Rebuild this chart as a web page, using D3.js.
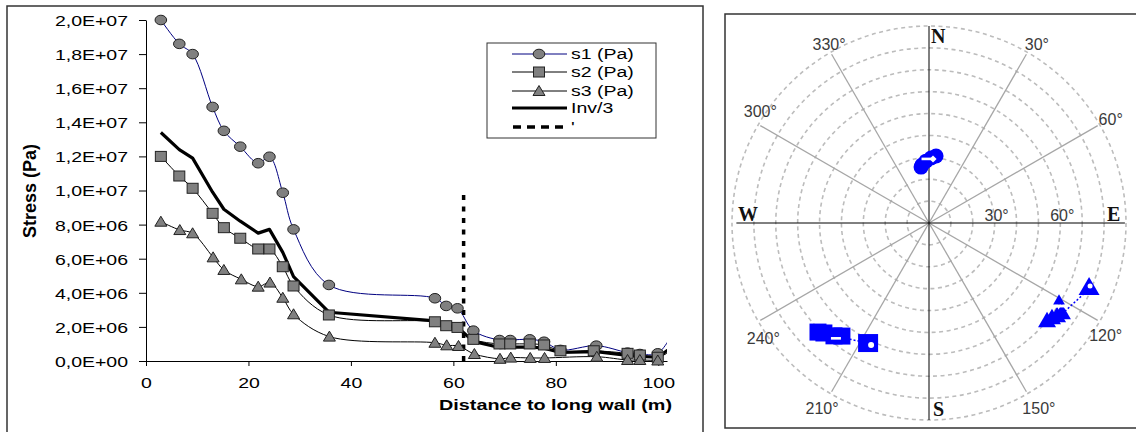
<!DOCTYPE html>
<html><head><meta charset="utf-8">
<script src="https://cdn.jsdelivr.net/npm/d3@7"></script>
<style>body{margin:0;background:#fff}svg{display:block}</style>
</head><body><svg id="c" width="1136" height="432"></svg>
<script>
// ---------- data: stress profile ----------
const distS1 = [2.9, 6.5, 9.1, 13.0, 15.2, 18.4, 21.9, 24.1, 26.7, 28.8, 35.7, 56.4, 58.6, 60.8, 63.9, 69.0, 71.1, 74.9, 77.7, 80.9, 87.9, 94.0, 96.4, 99.9, 103.5];
const s1 = [2.0e7, 1.86e7, 1.80e7, 1.49e7, 1.35e7, 1.257e7, 1.16e7, 1.198e7, 9.87e6, 7.72e6, 4.46e6, 3.68e6, 3.23e6, 3.09e6, 1.78e6, 1.23e6, 1.23e6, 1.27e6, 1.13e6, 0.65e6, 0.9e6, 0.49e6, 0.41e6, 0.45e6, 2.0e6];
const distS2 = [2.9, 6.5, 9.1, 13.0, 15.2, 18.4, 21.9, 24.1, 26.7, 28.8, 35.7, 56.4, 58.6, 60.8, 63.9, 69.0, 71.1, 74.9, 77.7, 80.9, 87.4, 94.0, 96.4, 99.9, 103.5];
const s2 = [1.2e7, 1.085e7, 1.013e7, 8.66e6, 7.82e6, 7.2e6, 6.57e6, 6.57e6, 5.53e6, 4.4e6, 2.7e6, 2.3e6, 2.07e6, 1.97e6, 1.27e6, 1.0e6, 1.0e6, 1.0e6, 0.94e6, 0.6e6, 0.6e6, 0.45e6, 0.35e6, 0.22e6, 0.8e6];
const distS3 = [2.9, 6.6, 9.1, 13.1, 15.2, 18.6, 21.9, 24.2, 26.7, 28.8, 35.8, 56.4, 58.7, 61.0, 64.1, 69.1, 71.2, 75.0, 77.8, 88.0, 94.0, 96.4, 99.9];
const s3 = [8.17e6, 7.68e6, 7.49e6, 6.08e6, 5.34e6, 4.79e6, 4.36e6, 4.6e6, 3.71e6, 2.74e6, 1.43e6, 1.07e6, 0.92e6, 0.88e6, 0.41e6, 0.13e6, 0.2e6, 0.18e6, 0.18e6, 0.25e6, 0.06e6, 0.06e6, 0.03e6];
const distInv = [2.9, 6.5, 9.1, 13.0, 15.2, 18.4, 21.9, 24.1, 26.7, 28.8, 35.7, 56.4, 58.6, 60.8, 63.9, 69.0, 71.1, 74.9, 77.7, 80.9, 87.9, 94.0, 96.4, 99.9, 103.5];
const inv3 = [13.4e6, 12.4e6, 11.9e6, 9.9e6, 8.9e6, 8.2e6, 7.5e6, 7.72e6, 6.37e6, 4.95e6, 2.86e6, 2.35e6, 2.07e6, 1.98e6, 1.15e6, 0.79e6, 0.81e6, 0.82e6, 0.75e6, 0.5e6, 0.55e6, 0.33e6, 0.27e6, 0.22e6, 1.0e6];
const dashDist = [62, 62];
const dashVal = [0, 1.0e7];
const xTicks = [0, 20, 40, 60, 80, 100];
const yTicks = [0, 2e6, 4e6, 6e6, 8e6, 1e7, 1.2e7, 1.4e7, 1.6e7, 1.8e7, 2e7];
const legendLabels = ['s1 (Pa)', 's2 (Pa)', 's3 (Pa)', 'Inv/3', "'"];
const xTitle = 'Distance to long wall (m)';
const yTitle = 'Stress (Pa)';

// ---------- data: stereonet (azimuth deg, angle from centre deg) ----------
const polarCircles = [10, 20, 30, 40, 50, 60, 70, 80, 90];
const spokeAngles = [30, 60, 120, 150, 210, 240, 300, 330];
const spokeLabels = ['30°', '60°', '120°', '150°', '210°', '240°', '300°', '330°'];
const ringLabels = ['30°', '60°'];
const ringLabelValues = [30, 60];
const cardinal = ['N', 'E', 'S', 'W'];
const p1Az = [353.1, 357.2, 1.8, 6.0, 351.9];
const p1Ang = [26.7, 28.3, 29.7, 30.8, 25.8];
const p2Az = [225.5, 223.7, 220.1, 217.6];
const p2Ang = [71.1, 69.5, 67.4, 65.2];
const p3Az = [130.0, 128.0, 126.3, 124.4, 121.0];
const p3Ang = [70.4, 71.3, 72.6, 73.6, 69.3];
const meanAz = [3.6, 206.9, 112.4];
const meanAng = [29.3, 61.5, 79.1];
const dashAz = [357.8, 218.9, 122.4];
const dashAng = [29.3, 67.7, 70.9];

// ---------- drawing ----------
const svg = d3.select('#c');
const FONT = "'Liberation Sans', Arial, sans-serif";
const SX = 1.3;
svg.append('rect').attr('width', 1136).attr('height', 432).attr('fill', '#fff');

// left frame
svg.append('rect').attr('x', 7).attr('y', 6).attr('width', 696).attr('height', 440)
  .attr('fill', 'none').attr('stroke', '#333').attr('stroke-width', 1.5);

const x = d3.scaleLinear().domain([0, 101.7]).range([146, 667]);
const y = d3.scaleLinear().domain([0, 2e7]).range([361, 20]);

function fmtE(v) {
  if (v === 0) return '0,0E+00';
  const e = Math.floor(Math.log10(v) + 1e-9);
  const m = v / Math.pow(10, e);
  return m.toFixed(1).replace('.', ',') + 'E+' + String(e).padStart(2, '0');
}

const defs = svg.append('defs');
defs.append('clipPath').attr('id', 'plotclip').append('rect')
  .attr('x', 140).attr('y', 0).attr('width', 527).attr('height', 372);

// axes
const gy = svg.append('g').attr('transform', 'translate(146,0)')
  .call(d3.axisLeft(y).tickValues(yTicks).tickSize(7).tickSizeOuter(0).tickFormat(fmtE));
gy.attr('font-family', FONT).attr('font-size', 15);
gy.select('.domain').attr('stroke', '#000');
gy.selectAll('.tick line').attr('stroke', '#000');
gy.selectAll('.tick text').attr('fill', '#000').attr('x', -18 / SX).attr('dy', '0.36em')
  .attr('transform', `scale(${SX},1)`);

const gx = svg.append('g').attr('transform', 'translate(0,361)')
  .call(d3.axisBottom(x).tickValues(xTicks).tickSize(5).tickSizeOuter(0));
gx.attr('font-family', FONT).attr('font-size', 15);
gx.select('.domain').attr('stroke', '#000');
gx.selectAll('.tick line').attr('stroke', '#000');
gx.selectAll('.tick text').attr('fill', '#000').attr('y', 27).attr('dy', 0)
  .attr('transform', `scale(${SX},1)`);

function stext(parent, px, py, str, o) {
  const g = parent.append('g').attr('transform', `translate(${px},${py}) scale(${o.sx || SX},1)`);
  return g.append('text').text(str).attr('font-family', FONT).attr('font-size', o.size || 15)
    .attr('font-weight', o.weight || 'normal').attr('text-anchor', o.anchor || 'start').attr('fill', '#000');
}
stext(svg, 672, 409.5, xTitle, {anchor: 'end', weight: 'bold', size: 15, sx: 1.32});
svg.append('text').attr('transform', 'translate(36,191) rotate(-90)').attr('text-anchor', 'middle')
  .attr('font-family', FONT).attr('font-weight', 'bold').attr('font-size', 18).text(yTitle);

// series
const plot = svg.append('g').attr('clip-path', 'url(#plotclip)');
const smooth = d3.line().x(d => x(d[0])).y(d => y(d[1])).curve(d3.curveCatmullRom.alpha(0.5));
const straight = d3.line().x(d => x(d[0])).y(d => y(d[1]));
const d1 = d3.zip(distS1, s1), d2 = d3.zip(distS2, s2), d3s = d3.zip(distS3, s3), dI = d3.zip(distInv, inv3);

plot.append('path').attr('d', smooth(d1)).attr('fill', 'none').attr('stroke', '#000080').attr('stroke-width', 1);
plot.append('path').attr('d', smooth(d2)).attr('fill', 'none').attr('stroke', '#000').attr('stroke-width', 1);
plot.append('path').attr('d', smooth(d3s)).attr('fill', 'none').attr('stroke', '#000').attr('stroke-width', 1);
plot.append('path').attr('d', straight(dI)).attr('fill', 'none').attr('stroke', '#000').attr('stroke-width', 3.2)
  .attr('stroke-linejoin', 'round');
plot.append('path').attr('d', straight(d3.zip(dashDist, dashVal))).attr('fill', 'none').attr('stroke', '#000')
  .attr('stroke-width', 3.5).attr('stroke-dasharray', '5,6.5');

const MF = '#808080', MS = '#222';
function drawCircle(g, px, py) {
  g.append('ellipse').attr('cx', px).attr('cy', py).attr('rx', 5.8).attr('ry', 4.8)
    .attr('fill', MF).attr('stroke', MS).attr('stroke-width', 1);
}
function drawSquare(g, px, py) {
  g.append('rect').attr('x', px - 5.5).attr('y', py - 5).attr('width', 11).attr('height', 10)
    .attr('fill', MF).attr('stroke', MS).attr('stroke-width', 1);
}
function drawTri(g, px, py) {
  g.append('path').attr('d', `M${px},${py - 5.5}L${px + 6},${py + 4.5}L${px - 6},${py + 4.5}Z`)
    .attr('fill', MF).attr('stroke', MS).attr('stroke-width', 1);
}
d1.forEach(d => drawCircle(plot, x(d[0]), y(d[1])));
d2.forEach(d => drawSquare(plot, x(d[0]), y(d[1])));
d3s.forEach(d => drawTri(plot, x(d[0]), y(d[1])));

// legend
const lg = svg.append('g');
lg.append('rect').attr('x', 487).attr('y', 43).attr('width', 169).attr('height', 95)
  .attr('fill', '#fff').attr('stroke', '#333').attr('stroke-width', 1);
const rowY = [54, 72, 91, 108, 127];
const legStroke = ['#000080', '#000', '#000', '#000', '#000'];
const legWidth = [1, 1, 1, 3.2, 3.5];
legendLabels.forEach((lab, i) => {
  const ln = lg.append('line').attr('x1', 512).attr('x2', 567).attr('y1', rowY[i]).attr('y2', rowY[i])
    .attr('stroke', legStroke[i]).attr('stroke-width', legWidth[i]);
  if (i === 4) ln.attr('stroke-dasharray', '8,6').attr('x1', 513);
  if (i === 0) drawCircle(lg, 539, rowY[i]);
  if (i === 1) drawSquare(lg, 539, rowY[i]);
  if (i === 2) drawTri(lg, 539, rowY[i]);
  stext(lg, 571, rowY[i] + 5, lab, {size: 15});
});

// ---------- stereonet ----------
svg.append('rect').attr('x', 725).attr('y', 14).attr('width', 420).attr('height', 414)
  .attr('fill', 'none').attr('stroke', '#333').attr('stroke-width', 1.5);
const cx = 929, cy = 223;
const r = d3.scaleLinear().domain([0, 90]).range([0, 197]);
const P = (az, a) => [cx + r(a) * Math.sin(az * Math.PI / 180), cy - r(a) * Math.cos(az * Math.PI / 180)];
const pg = svg.append('g');
polarCircles.forEach(c => {
  pg.append('circle').attr('cx', cx).attr('cy', cy).attr('r', r(c)).attr('fill', 'none')
    .attr('stroke', '#bcbcbc').attr('stroke-width', 1.6).attr('stroke-dasharray', '4,3.5');
});
spokeAngles.forEach(a => {
  const e = P(a, 89);
  pg.append('line').attr('x1', cx).attr('y1', cy).attr('x2', e[0]).attr('y2', e[1])
    .attr('stroke', '#a6a6a6').attr('stroke-width', 1.3);
});
pg.append('line').attr('x1', cx).attr('x2', cx).attr('y1', cy - r(90)).attr('y2', cy + r(90)).attr('stroke', '#000').attr('stroke-width', 1);
pg.append('line').attr('x1', cx - r(88)).attr('x2', cx + r(89.5)).attr('y1', cy).attr('y2', cy).attr('stroke', '#000').attr('stroke-width', 1);

const labOff = {30: [10.5, -4], 60: [13, -0.5], 120: [8, 20.5], 150: [12.5, 22], 210: [-9.5, 22], 240: [3, 23.5], 300: [0, -8.5], 330: [-2.5, -4]};
spokeAngles.forEach((a, i) => {
  const e = P(a, 89);
  pg.append('text').attr('x', e[0] + labOff[a][0]).attr('y', e[1] + labOff[a][1]).attr('text-anchor', 'middle')
    .attr('font-family', FONT).attr('font-size', 16).attr('fill', '#3a3a3a').text(spokeLabels[i]);
});
ringLabels.forEach((t, i) => {
  pg.append('text').attr('x', cx + r(ringLabelValues[i]) + 2).attr('y', cy - 2.5).attr('text-anchor', 'middle')
    .attr('font-family', FONT).attr('font-size', 16).attr('fill', '#3a3a3a').text(t);
});
const cardPos = {N: [931, 43], E: [1107, 221], S: [933, 416], W: [738, 221]};
cardinal.forEach(c => {
  pg.append('text').attr('x', cardPos[c][0]).attr('y', cardPos[c][1])
    .attr('font-family', "'Liberation Serif', 'Times New Roman', serif").attr('font-weight', 'bold')
    .attr('font-size', 20).attr('fill', '#111').text(c);
});

const BLUE = '#0000ff';
// dotted links to means
[[p2Az, p2Ang, 1], [p3Az, p3Ang, 2]].forEach(([az, an, k]) => {
  const a = P(az[az.length - 2], an[an.length - 2]), b = P(meanAz[k], meanAng[k]);
  pg.append('line').attr('x1', a[0]).attr('y1', a[1]).attr('x2', b[0]).attr('y2', b[1])
    .attr('stroke', BLUE).attr('stroke-width', 1.5).attr('stroke-dasharray', '2,2');
});
p1Az.forEach((az, i) => { const p = P(az, p1Ang[i]); pg.append('circle').attr('cx', p[0]).attr('cy', p[1]).attr('r', 7.5).attr('fill', BLUE); });
p2Az.forEach((az, i) => { const p = P(az, p2Ang[i]); pg.append('rect').attr('x', p[0] - 8.5).attr('y', p[1] - 8.5).attr('width', 17).attr('height', 17).attr('fill', BLUE); });
p3Az.forEach((az, i) => { const p = P(az, p3Ang[i]); pg.append('path').attr('transform', `translate(${p[0]},${p[1]})`).attr('d', d3.symbol(d3.symbolTriangle, i === 4 ? 60 : 140)()).attr('fill', BLUE); });
// means
{
  const m1 = P(meanAz[0], meanAng[0]);
  pg.append('path').attr('transform', `translate(${m1[0]},${m1[1]}) rotate(45)`).attr('d', 'M-2.5,-2.5h5v5h-5z').attr('fill', '#fff');
  const m2 = P(meanAz[1], meanAng[1]);
  pg.append('rect').attr('x', m2[0] - 10).attr('y', m2[1] - 9).attr('width', 20).attr('height', 18).attr('fill', BLUE);
  pg.append('circle').attr('cx', m2[0] + 3).attr('cy', m2[1] + 2).attr('r', 3).attr('fill', '#fff');
  const m3 = P(meanAz[2], meanAng[2]);
  pg.append('path').attr('transform', `translate(${m3[0]},${m3[1]})`).attr('d', d3.symbol(d3.symbolTriangle, 190)()).attr('fill', BLUE);
  pg.append('circle').attr('cx', m3[0] + 1).attr('cy', m3[1] - 3).attr('r', 2.5).attr('fill', '#fff');
}
dashAz.forEach((az, i) => {
  const p = P(az, dashAng[i]);
  pg.append('rect').attr('x', p[0] - 5).attr('y', p[1] - 1.3).attr('width', 10).attr('height', 2.6).attr('fill', '#fff');
});
</script>
</body></html>
